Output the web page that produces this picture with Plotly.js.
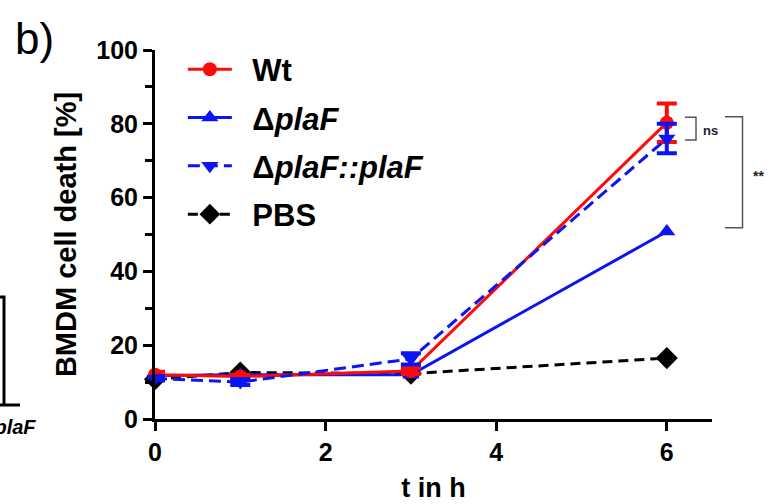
<!DOCTYPE html>
<html>
<head>
<meta charset="utf-8">
<script src="https://cdn.plot.ly/plotly-3.0.1.min.js"></script>
<style>html,body{margin:0;padding:0;background:#fff;}#chart{width:772px;height:504px;}</style>
</head>
<body>
<div id="chart"></div>
<script>
// ---- data ----
const timeH = [0, 1, 3, 6];
const wtDeath = [12, 11.5, 13, 80.3];
const wtErr = [0.8, 0.5, 0.8, 5.2];
const plaFDeath = [11.8, 12, 12, 50.8];
const compDeath = [11, 10, 16.3, 76];
const compErr = [0.6, 0.8, 1.5, 4];
const pbsDeath = [10.8, 12.6, 12.3, 16.5];
const seriesNames = ['Wt', 'Δ<i>plaF</i>', 'Δ<i>plaF::plaF</i>', 'PBS'];
const xTicks = [0, 2, 4, 6];
const yTicks = [0, 20, 40, 60, 80, 100];

const FONT = 'Liberation Sans, Arial, sans-serif';
const RED = '#ff0a0a', BLUE = '#0a14f5', BLACK = '#000000';

// plot-area geometry helpers (paper coords)
const L = 155, T = 50, W = 557, H = 369;
const px = v => (v - L) / W;
const py = v => (T + H - v) / H;
const SP = '\u2002';

function tr(y, err, name, color, sym, dash, msize, rank) {
  return {
    x: timeH, y: y, name: SP + name, type: 'scatter', mode: 'lines+markers',
    legendgroup: 'g' + rank, legendrank: rank, cliponaxis: false,
    line: {color: color, width: 3, dash: dash},
    marker: {symbol: sym, size: msize, color: color},
    error_y: err ? {type: 'data', array: err, visible: true, color: color, thickness: 4, width: 10} : {visible: false}
  };
}

const data = [
  tr(pbsDeath, null, seriesNames[3], BLACK, 'diamond', '10px,6px', 17, 4),
  tr(plaFDeath, null, seriesNames[1], BLUE, 'triangle-up', 'solid', 15, 2),
  tr(wtDeath, wtErr, seriesNames[0], RED, 'circle', 'solid', 14, 1),
  tr(compDeath, compErr, seriesNames[2], BLUE, 'triangle-down', '12px,6px', 15, 3)
];

const gray = '#555555';
const shapes = [
  // ns bracket
  {type: 'path', xref: 'paper', yref: 'paper', line: {color: gray, width: 1.5},
   path: `M${px(685)},${py(117.3)} L${px(696)},${py(117.3)} L${px(696)},${py(140)} L${px(685)},${py(140)}`},
  // ** bracket
  {type: 'path', xref: 'paper', yref: 'paper', line: {color: gray, width: 1.5},
   path: `M${px(725)},${py(116.7)} L${px(742.5)},${py(116.7)} L${px(742.5)},${py(227.7)} L${px(725)},${py(227.7)}`},
  // remnant of neighbouring panel
  {type: 'path', xref: 'paper', yref: 'paper', line: {color: BLACK, width: 3},
   path: `M${px(-2)},${py(297)} L${px(4)},${py(297)} L${px(4)},${py(405)} L${px(-2)},${py(405)} L${px(20)},${py(405)}`}
];

const annotations = [
  {xref: 'paper', yref: 'paper', x: px(710), y: py(130), xanchor: 'center', yanchor: 'middle', text: '<b>ns</b>', showarrow: false,
   font: {family: FONT, size: 13, color: '#222'}},
  {xref: 'paper', yref: 'paper', x: px(758), y: py(176), xanchor: 'center', yanchor: 'middle', text: '<b>**</b>', showarrow: false,
   font: {family: FONT, size: 14, color: '#222'}},
  {xref: 'paper', yref: 'paper', x: px(34), y: py(38), xanchor: 'center', yanchor: 'middle', text: 'b)', showarrow: false,
   font: {family: FONT, size: 44, color: BLACK}},
  {xref: 'paper', yref: 'paper', x: px(38), y: py(427), xanchor: 'right', yanchor: 'middle', text: '<b><i>ΔplaF</i></b>', showarrow: false,
   font: {family: FONT, size: 20, color: BLACK}}
];

const layout = {
  width: 772, height: 504,
  margin: {l: L, r: 772 - L - W, t: T, b: 504 - T - H, pad: 0},
  paper_bgcolor: '#fff', plot_bgcolor: '#fff',
  font: {family: FONT, color: BLACK},
  showlegend: true,
  legend: {x: 0.05, y: 1.02, xanchor: 'left', yanchor: 'top', bgcolor: 'rgba(0,0,0,0)',
           font: {family: FONT, size: 31, color: BLACK, weight: 'bold'},
           traceorder: 'grouped', tracegroupgap: 5, itemwidth: 44},
  xaxis: {
    range: [0, 6.53], tickvals: xTicks, ticktext: xTicks.map(String),
    showgrid: false, zeroline: false, showline: true, linecolor: BLACK, linewidth: 3,
    ticks: 'outside', ticklen: 9, tickwidth: 3, tickcolor: BLACK,
    tickfont: {family: FONT, size: 25, color: BLACK, weight: 'bold'},
    title: {text: '<b>t in h</b>', font: {family: FONT, size: 27, color: BLACK}, standoff: 14}
  },
  yaxis: {
    range: [0, 100], tickvals: yTicks, ticktext: yTicks.map(String),
    showgrid: false, zeroline: false, showline: true, linecolor: BLACK, linewidth: 3,
    ticks: 'outside', ticklen: 9, tickwidth: 3, tickcolor: BLACK,
    tickfont: {family: FONT, size: 25, color: BLACK, weight: 'bold'},
    minor: {dtick: 10, ticks: 'outside', ticklen: 7, tickwidth: 3, tickcolor: BLACK, showgrid: false},
    title: {text: '<b>BMDM cell death [%]</b>', font: {family: FONT, size: 29, color: BLACK}, standoff: 12}
  },
  shapes: shapes,
  annotations: annotations
};

Plotly.newPlot('chart', data, layout, {displayModeBar: false, staticPlot: true});
</script>
</body>
</html>
